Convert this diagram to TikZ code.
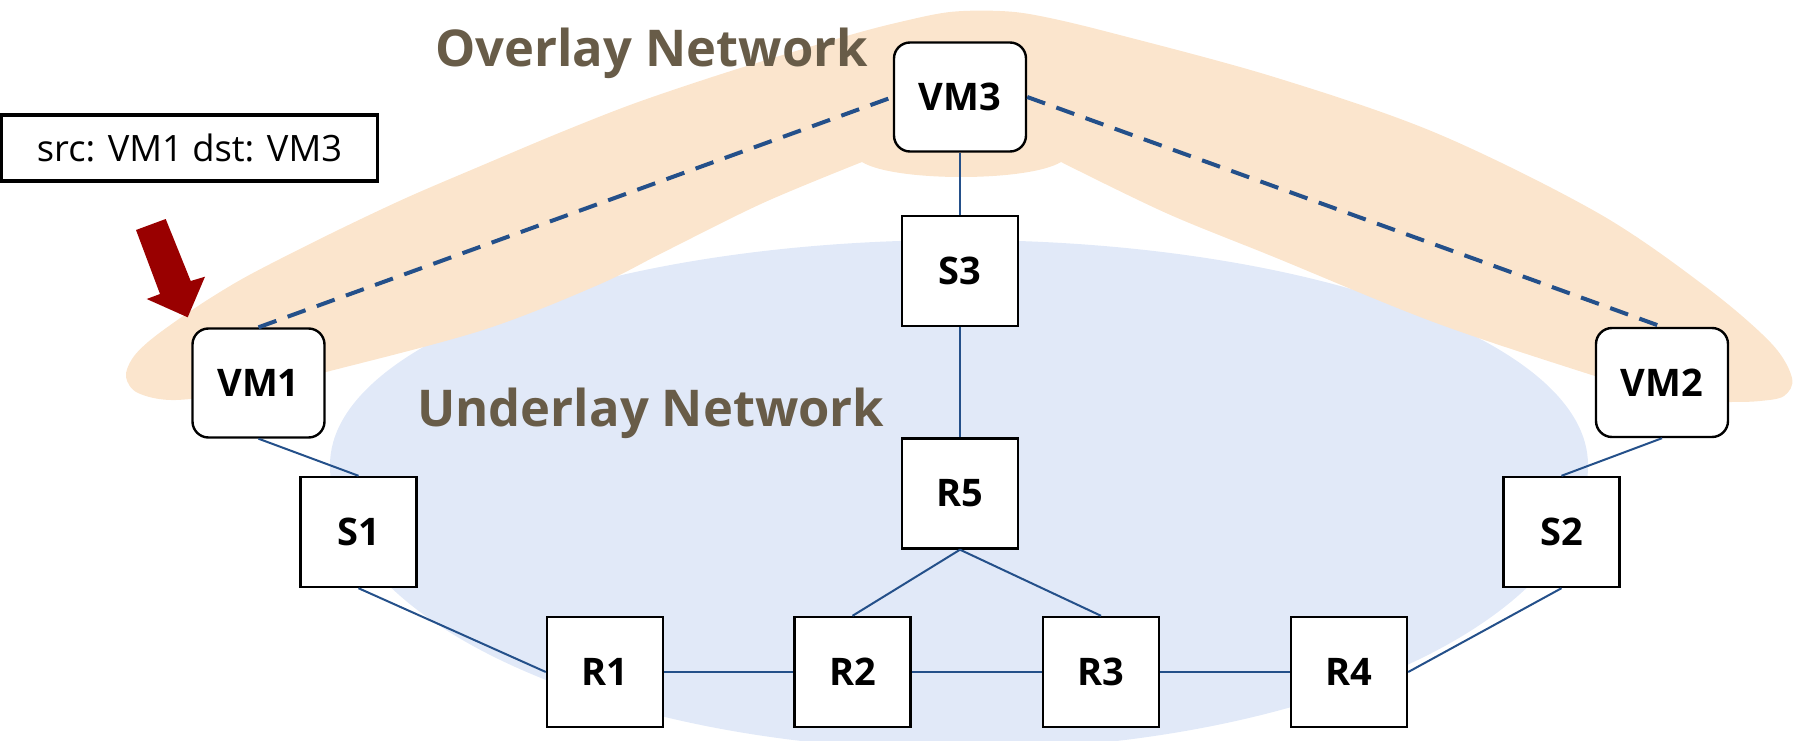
\documentclass[tikz,border=0pt]{standalone}
\usepackage{fontspec}
\setmainfont{Open Sans}
\definecolor{peach}{HTML}{FBE5CD}
\definecolor{underlayblue}{HTML}{E1E9F8}
\definecolor{linkblue}{HTML}{24508A}
\definecolor{titlebrown}{HTML}{685C48}
\definecolor{arrowred}{HTML}{990000}
\begin{document}
\begin{tikzpicture}[x=1pt,y=-1pt,
  netbox/.style={draw=black, line width=2.4pt, fill=white, minimum width=116pt,
    minimum height=110pt, inner sep=0pt, font=\fontsize{38}{40}\selectfont\bfseries},
  vmbox/.style={netbox, rounded corners=16pt, minimum width=132pt, minimum height=109pt},
  link/.style={draw=linkblue, line width=2pt},
  tunnel/.style={draw=linkblue, line width=4pt, dash pattern=on 19pt off 12pt},
  nettitle/.style={text=titlebrown, font=\fontsize{50.7}{54}\selectfont\bfseries,
    anchor=base west, inner sep=0pt}
]
\useasboundingbox (0,0) rectangle (1797,741);
\clip (0,0) rectangle (1797,741);

% underlay region
\fill[underlayblue] (330,465) .. controls (330,340.7) and (611.6,240) .. (959,240)
  .. controls (1306.4,240) and (1588,340.7) .. (1588,465)
  .. controls (1588,622.4) and (1306.4,750) .. (959,750)
  .. controls (611.6,750) and (330,622.4) .. (330,465) -- cycle;

% overlay band
\fill[peach] plot[smooth, tension=0.55] coordinates {
  (862,162) (763,203) (664,252) (598,285) (483,330) (330,371) (250,390)
  (176,400) (138,393) (126,377) (132,359) (148,342) (176,321) (212,297)
  (253,273) (330,234) (406,198) (483,165) (559,133) (630,105) (700,81)
  (763,61) (850,35) (900,22) (950,12) (1000,11) (1040,16) (1112,33)
  (1274,77) (1436,133) (1598,213) (1706,287) (1771,343) (1792,378)
  (1784,396) (1760,401) (1730,402) (1679,401) (1598,377) (1436,323)
  (1274,257) (1166,213) (1061,162)}
  .. controls (1028,182) and (894,182) .. (862,162) -- cycle;

% titles
\node[nettitle] (ovltitle) at (435,66.7) {Overlay Network};
\node[nettitle] (undtitle) at (417,426.7) {Underlay Network};

% header label
\node[draw=black, line width=3.3pt, minimum width=376pt, minimum height=66pt,
  inner sep=0pt, font=\fontsize{36.3}{40}\selectfont] (hdr) at (189.5,148)
  {src: VM1 dst: VM3};

% red pointer
\fill[arrowred] (136,230) -- (165.7,219) -- (190.7,281) -- (205,276.7)
  -- (187.7,317.3) -- (146.7,299) -- (160,294) -- cycle;

% hosts and devices
\node[vmbox] (vm1) at (258.5,383) {VM1};
\node[vmbox] (vm2) at (1662,382.5) {VM2};
\node[vmbox] (vm3) at (960,97) {VM3};
\node[netbox] (s3) at (960,271) {S3};
\node[netbox] (r5) at (960,493.5) {R5};
\node[netbox] (s1) at (358.5,532) {S1};
\node[netbox] (s2) at (1561.5,532) {S2};
\node[netbox] (r1) at (605,672) {R1};
\node[netbox] (r2) at (852.5,672) {R2};
\node[netbox] (r3) at (1101,672) {R3};
\node[netbox] (r4) at (1349,672) {R4};

% overlay tunnels
\draw[tunnel] (vm1.north) -- (vm3.west);
\draw[tunnel] (vm3.east) -- (vm2.north);

% physical links
\draw[link] (vm1.south) -- (s1.north);
\draw[link] (s1.south) -- (r1.west);
\draw[link] (r1.east) -- (r2.west);
\draw[link] (r2.east) -- (r3.west);
\draw[link] (r3.east) -- (r4.west);
\draw[link] (r4.east) -- (s2.south);
\draw[link] (s2.north) -- (vm2.south);
\draw[link] (r5.south) -- (r2.north);
\draw[link] (r5.south) -- (r3.north);
\draw[link] (r5.north) -- (s3.south);
\draw[link] (s3.north) -- (vm3.south);
\end{tikzpicture}
\end{document}
